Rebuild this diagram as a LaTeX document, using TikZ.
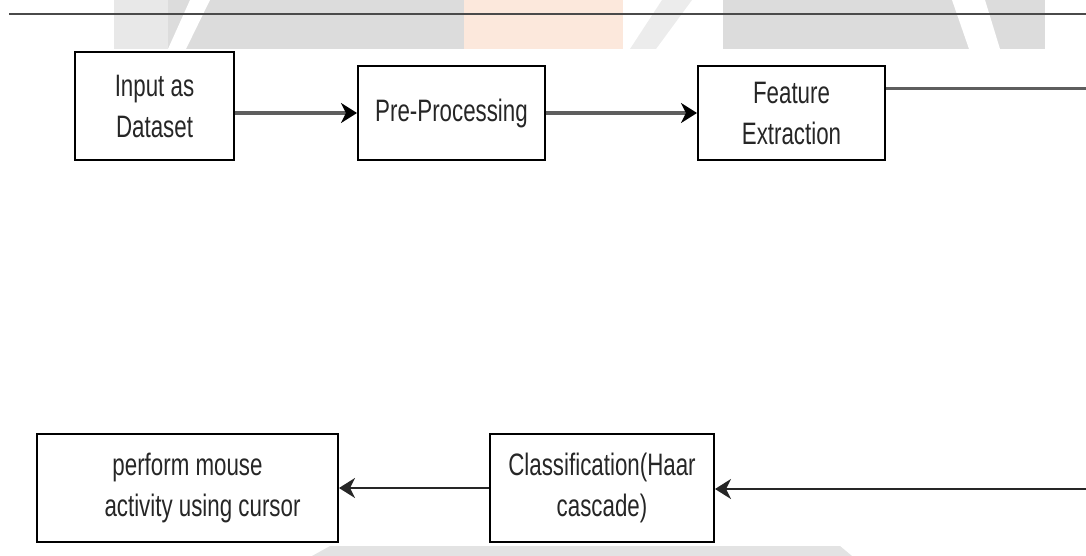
\documentclass[tikz,border=0pt]{standalone}
\usepackage{fontspec}
\setmainfont{Liberation Sans}[FakeStretch=0.72]
\usetikzlibrary{arrows.meta,positioning}
\definecolor{wmgray}{HTML}{DCDCDC}
\definecolor{wmlight}{HTML}{E8E8E8}
\definecolor{wmpeach}{HTML}{FCE8DC}
\definecolor{textgray}{HTML}{262626}
\definecolor{linegray}{HTML}{5E5E5E}
\definecolor{rulegray}{HTML}{4A4A4A}

\begin{document}
\begin{tikzpicture}[x=1pt,y=-1pt,
		place/.style={rectangle,draw=black,line width=2pt,align=center,inner sep=0pt,
			text=textgray,font=\fontsize{31pt}{41pt}\selectfont},
		marrow/.style={-{Stealth[length=16pt,width=20pt,inset=5pt,color=black]},line width=3.5pt,draw=linegray},
		barrow/.style={-{Stealth[length=16pt,width=20pt,inset=5pt]},line width=2.5pt,draw=black!85}]
	\useasboundingbox (0,0) rectangle (1086,556);

	% faint watermark of the page
	\fill[wmgray] (114,0) rectangle (464,49);
	\fill[wmlight] (114,0) rectangle (168,49);
	\fill[white] (190,0) -- (210,0) -- (186,49) -- (168,49) -- cycle;
	\fill[wmpeach] (464,0) rectangle (623,49);
	\fill[wmgray!55] (662,0) -- (692,0) -- (656,49) -- (630,49) -- cycle;
	\fill[wmgray] (723,0) rectangle (1045,49);
	\fill[white] (952,0) -- (985,0) -- (1000,49) -- (969,49) -- cycle;
	\fill[wmgray!80] (312,556) -- (330,546) -- (840,546) -- (852,556) -- cycle;
	\draw[line width=2pt,rulegray] (9,14) -- (1086,14);

	\node[place,minimum width=159pt,minimum height=108pt] (inp) at (154.5,106) {Input as\\Dataset};
	\node[place,minimum width=187pt,minimum height=94pt] (pre) at (451.5,113) {Pre-Processing};
	\node[place,minimum width=187pt,minimum height=94pt] (fe) at (791.5,113) {Feature\\Extraction};

	\node[place,minimum width=301pt,minimum height=108pt] (act) at (187.5,488) {perform mouse\\\hspace*{30pt}activity using cursor};
	\node[place,minimum width=224pt,minimum height=108pt] (cls) at (602,488) {Classification(Haar\\cascade)};

	% the loop leaves the page on the right
	\coordinate (edge-top) at (1086,89);
	\coordinate (edge-bot) at (1086,489);

	% top row
	\draw [marrow] (inp.east |- pre.west) -- (pre.west);
	\draw [marrow] (pre) -- (fe);
	\draw [line width=3pt,draw=linegray] (fe.east |- edge-top) -- (edge-top);

	% bottom row
	\draw [barrow] (edge-bot) -- (cls.east |- edge-bot);
	\draw [barrow] (cls.west) -- (act.east);
\end{tikzpicture}
\end{document}
